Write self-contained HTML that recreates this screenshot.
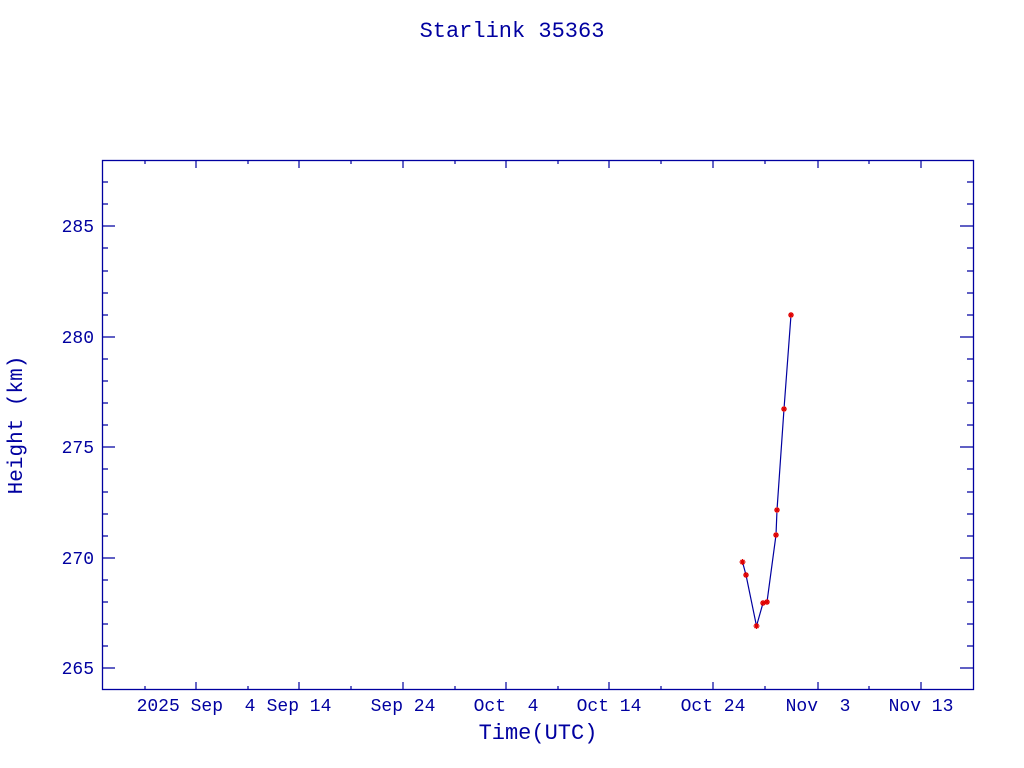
<!DOCTYPE html>
<html><head><meta charset="utf-8"><style>body{margin:0;background:#fff}svg{display:block}</style></head>
<body>
<svg width="1024" height="768" xmlns="http://www.w3.org/2000/svg" font-family="Liberation Mono, monospace" fill="#0000a0">
<defs><path id="s" d="M-3 0h6M0 -3v6M-2 -2l4 4M-2 2l4 -4"/></defs>
<text x="512" y="37" font-size="22" text-anchor="middle">Starlink 35363</text>
<rect x="102.5" y="160.5" width="871" height="529" fill="none" stroke="#0000a0" stroke-width="1.3"/>
<g stroke="#0000a0" stroke-width="1.2">
<path d="M102 668h13M102 558h13M102 447h13M102 337h13M102 226h13M973 668h-13M973 558h-13M973 447h-13M973 337h-13M973 226h-13"/>
<path d="M102 646h6M102 624h6M102 602h6M102 580h6M102 536h6M102 514h6M102 492h6M102 469h6M102 425h6M102 403h6M102 381h6M102 359h6M102 315h6M102 293h6M102 271h6M102 248h6M102 204h6M102 182h6
M973 646h-6M973 624h-6M973 602h-6M973 580h-6M973 536h-6M973 514h-6M973 492h-6M973 469h-6M973 425h-6M973 403h-6M973 381h-6M973 359h-6M973 315h-6M973 293h-6M973 271h-6M973 248h-6M973 204h-6M973 182h-6"/>
<path d="M196 690v-8M299 690v-8M403 690v-8M506 690v-8M609 690v-8M713 690v-8M818 690v-8M921 690v-8
M196 160v8M299 160v8M403 160v8M506 160v8M609 160v8M713 160v8M818 160v8M921 160v8
M145 690v-4M248 690v-4M351 690v-4M455 690v-4M558 690v-4M661 690v-4M765 690v-4M869 690v-4
M145 160v4M248 160v4M351 160v4M455 160v4M558 160v4M661 160v4M765 160v4M869 160v4"/>
</g>
<g font-size="18" text-anchor="end">
<text x="94" y="674">265</text><text x="94" y="564">270</text><text x="94" y="453">275</text><text x="94" y="343">280</text><text x="94" y="232">285</text>
</g>
<g font-size="18" text-anchor="middle">
<text x="196" y="711">2025 Sep&#160;&#160;4</text>
<text x="299" y="711">Sep 14</text>
<text x="403" y="711">Sep 24</text>
<text x="506" y="711">Oct&#160;&#160;4</text>
<text x="609" y="711">Oct 14</text>
<text x="713" y="711">Oct 24</text>
<text x="818" y="711">Nov&#160;&#160;3</text>
<text x="921" y="711">Nov 13</text>
</g>
<text x="538" y="739" font-size="22" text-anchor="middle">Time(UTC)</text>
<text transform="translate(22,425) rotate(-90)" font-size="21" text-anchor="middle">Height (km)</text>
<polyline points="742.5,562 746,575 756.5,626 763,603 767,602 776,535 777,510 784,409 791,315" fill="none" stroke="#0000a0" stroke-width="1.2"/>
<g stroke="#e00000" stroke-width="1.3" fill="none">
<use href="#s" x="742.5" y="562"/><use href="#s" x="746" y="575"/><use href="#s" x="756.5" y="626"/><use href="#s" x="763" y="603"/><use href="#s" x="767" y="602"/><use href="#s" x="776" y="535"/><use href="#s" x="777" y="510"/><use href="#s" x="784" y="409"/><use href="#s" x="791" y="315"/>
</g>
</svg>
</body></html>
